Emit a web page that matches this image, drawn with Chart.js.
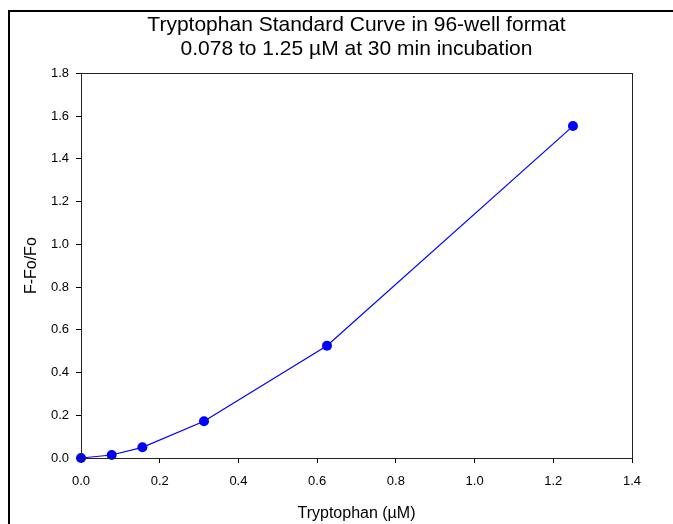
<!DOCTYPE html>
<html>
<head>
<meta charset="utf-8">
<script src="https://cdn.jsdelivr.net/npm/chart.js@4"></script>
<style>
    html, body { margin: 0; padding: 0; background: #fff; }
    #grafica { display: block; }
</style>
</head>
<body>
<canvas id="grafica" width="673" height="524"></canvas>
<script>
// Datos de la curva estándar
const concentraciones = [0, 0.078, 0.156, 0.3125, 0.625, 1.25];   // Triptófano (µM)
const fluorescencia = [0, 0.014, 0.05, 0.172, 0.525, 1.553];      // F-Fo/Fo
const tituloLineas = ['Tryptophan Standard Curve in 96-well format', '0.078 to 1.25 \u00b5M at 30 min incubation'];
const tituloX = 'Tryptophan (\u00b5M)';
const tituloY = 'F-Fo/Fo';

const fuente = "'Liberation Sans', Arial, sans-serif";
Chart.defaults.font.family = fuente;
Chart.defaults.color = '#000';

// Marco exterior y caja del área de trazado
const marcoPlugin = {
    id: 'marco',
    beforeDraw(chart) {
        const ctx = chart.ctx;
        ctx.save();
        ctx.fillStyle = '#fff';
        ctx.fillRect(0, 0, chart.width, chart.height);
        ctx.strokeStyle = '#000';
        ctx.lineWidth = 2;
        ctx.beginPath();
        ctx.moveTo(9, chart.height);
        ctx.lineTo(9, 11);
        ctx.lineTo(chart.width, 11);
        ctx.stroke();
        ctx.restore();
    },
    afterDatasetsDraw(chart) {
        const a = chart.chartArea;
        const ctx = chart.ctx;
        ctx.save();
        ctx.strokeStyle = '#222';
        ctx.lineWidth = 1;
        ctx.strokeRect(Math.round(a.left) + 0.5, Math.round(a.top) + 0.5, Math.round(a.right - a.left), Math.round(a.bottom - a.top));
        ctx.restore();
    }
};

const datos = concentraciones.map((x, i) => ({ x: x, y: fluorescencia[i] }));

new Chart(document.getElementById('grafica'), {
    type: 'scatter',
    data: {
        datasets: [{
            data: datos,
            showLine: true,
            borderColor: '#0000ff',
            borderWidth: 1.2,
            backgroundColor: '#0000ff',
            pointRadius: 5,
            pointBorderWidth: 0,
            clip: false
        }]
    },
    options: {
        responsive: false,
        devicePixelRatio: 1,
        animation: false,
        layout: { padding: { top: 0, right: 41, bottom: 0, left: 0 } },
        plugins: {
            legend: { display: false },
            tooltip: { enabled: false },
            title: {
                display: true,
                text: tituloLineas,
                fullSize: false,
                font: { size: 21, weight: 'normal', lineHeight: 1.15 },
                color: '#000',
                padding: { top: 13, bottom: 12 }
            }
        },
        scales: {
            x: {
                type: 'linear',
                min: 0,
                max: 1.4,
                ticks: {
                    stepSize: 0.2,
                    padding: 11,
                    font: { size: 13 },
                    color: '#000',
                    callback: v => v.toFixed(1)
                },
                grid: { drawOnChartArea: false, drawTicks: true, tickLength: 5, color: '#000' },
                border: { display: true, color: '#000' },
                title: { display: true, text: tituloX, font: { size: 16 }, padding: { top: 0, bottom: 1 } },
                afterFit: s => { s.height = 66; }
            },
            y: {
                type: 'linear',
                min: 0,
                max: 1.8,
                ticks: {
                    stepSize: 0.2,
                    padding: 7,
                    font: { size: 13 },
                    color: '#000',
                    callback: v => v.toFixed(1)
                },
                grid: { drawOnChartArea: false, drawTicks: true, tickLength: 5, color: '#000' },
                border: { display: true, color: '#000' },
                title: { display: true, text: tituloY, font: { size: 16 }, padding: { top: 22, bottom: 0 } },
                afterFit: s => { s.width = 81; }
            }
        }
    },
    plugins: [marcoPlugin]
});
</script>
</body>
</html>
